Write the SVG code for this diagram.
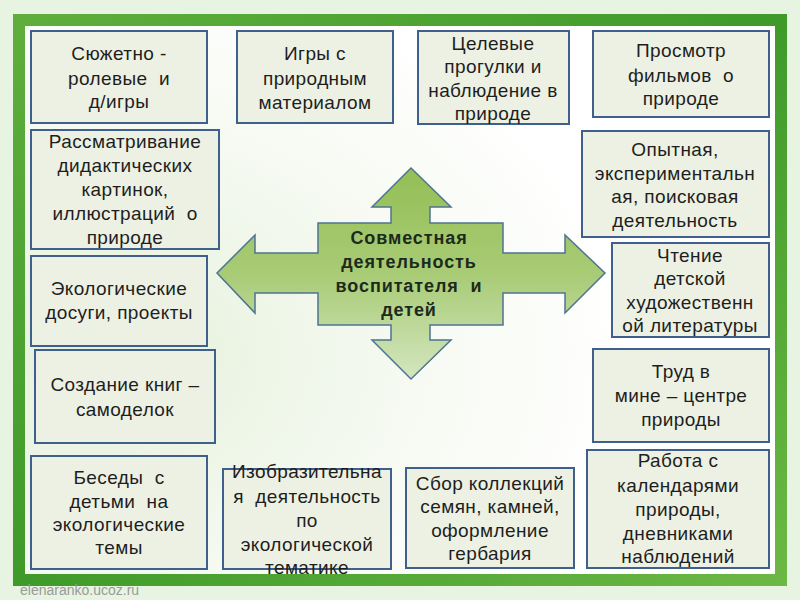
<svg xmlns="http://www.w3.org/2000/svg" width="800" height="600" viewBox="0 0 800 600">
<defs>
<linearGradient id="frameG" x1="0" y1="0" x2="1" y2="1">
<stop offset="0" stop-color="#5fae3c"/>
<stop offset="0.5" stop-color="#3f9a2a"/>
<stop offset="1" stop-color="#6cb844"/>
</linearGradient>
<radialGradient id="innerG" cx="0.1" cy="0.6" r="0.7">
<stop offset="0" stop-color="#e4f1da"/>
<stop offset="0.6" stop-color="#f6faf2"/>
<stop offset="1" stop-color="#ffffff"/>
</radialGradient>
<linearGradient id="arrowG" x1="0" y1="0" x2="0" y2="1">
<stop offset="0" stop-color="#93bf55"/>
<stop offset="0.5" stop-color="#a8cb75"/>
<stop offset="1" stop-color="#d3e6bf"/>
</linearGradient>
<style>
.box{fill:#edf1e3;stroke:#3f5f8c;stroke-width:2}
.t{font-family:"Liberation Sans",Arial,sans-serif;font-size:19px;letter-spacing:0.4px;fill:#1e1e1e;text-anchor:middle;white-space:pre}
.c{font-family:"Liberation Sans",Arial,sans-serif;font-size:18px;letter-spacing:0.9px;font-weight:bold;fill:#1c2a1c;text-anchor:middle;white-space:pre}
</style>
</defs>
<rect width="800" height="600" fill="#e7f4e1"/>
<rect x="19" y="20" width="762" height="560" fill="url(#innerG)" stroke="url(#frameG)" stroke-width="12"/>
<text x="20" y="595" font-family="Liberation Sans,Arial,sans-serif" font-size="14" fill="#9a9a9a">elenaranko.ucoz.ru</text>

<g id="connectors">
<path d="M411,168 L451,207 L430,207 L430,223 L503,223 L503,253 L565,253 L565,235 L605,273 L565,313 L565,293 L503,293 L503,325 L430,325 L430,340 L451,340 L411,379 L372,340 L391,340 L391,325 L318,325 L318,293 L255,293 L255,313 L217,273 L255,235 L255,253 L318,253 L318,223 L391,223 L391,207 L372,207 Z" fill="url(#arrowG)" stroke="#4f7393" stroke-width="1.5"/>
</g>
<g id="center">
<text class="c" x="409" y="244">Совместная</text>
<text class="c" x="409" y="268">деятельность</text>
<text class="c" x="409" y="292">воспитателя  и</text>
<text class="c" x="409" y="316">детей</text>
</g>

<g id="n1"><rect class="box" x="31" y="31" width="176" height="92"/>
<text class="t" x="119" y="60">Сюжетно -</text><text class="t" x="119" y="85">ролевые  и</text><text class="t" x="119" y="108">д/игры</text></g>
<g id="n2"><rect class="box" x="237" y="31" width="156" height="92"/>
<text class="t" x="315" y="60">Игры с</text><text class="t" x="315" y="85">природным</text><text class="t" x="315" y="109">материалом</text></g>
<g id="n3"><rect class="box" x="418" y="31" width="151" height="93"/>
<text class="t" x="493" y="50">Целевые</text><text class="t" x="493" y="73">прогулки и</text><text class="t" x="493" y="97">наблюдение в</text><text class="t" x="493" y="120">природе</text></g>
<g id="n4"><rect class="box" x="593" y="31" width="176" height="86"/>
<text class="t" x="681" y="57">Просмотр</text><text class="t" x="681" y="82">фильмов  о</text><text class="t" x="681" y="105">природе</text></g>
<g id="n5"><rect class="box" x="31" y="130" width="188" height="119"/>
<text class="t" x="125" y="148">Рассматривание</text><text class="t" x="125" y="172">дидактических</text><text class="t" x="125" y="196">картинок,</text><text class="t" x="125" y="220">иллюстраций  о</text><text class="t" x="125" y="244">природе</text></g>
<g id="n6"><rect class="box" x="582" y="131" width="187" height="106"/>
<text class="t" x="675" y="156">Опытная,</text><text class="t" x="675" y="180">экспериментальн</text><text class="t" x="675" y="203">ая, поисковая</text><text class="t" x="675" y="227">деятельность</text></g>
<g id="n7"><rect class="box" x="31" y="256" width="176" height="90"/>
<text class="t" x="119" y="295">Экологические</text><text class="t" x="119" y="319">досуги, проекты</text></g>
<g id="n8"><rect class="box" x="612" y="243" width="157" height="94"/>
<text class="t" x="690" y="262">Чтение</text><text class="t" x="690" y="285">детской</text><text class="t" x="690" y="309">художественн</text><text class="t" x="690" y="332">ой литературы</text></g>
<g id="n9"><rect class="box" x="35" y="350" width="180" height="93"/>
<text class="t" x="125" y="391">Создание книг –</text><text class="t" x="125" y="416">самоделок</text></g>
<g id="n10"><rect class="box" x="593" y="349" width="176" height="93"/>
<text class="t" x="681" y="378">Труд в</text><text class="t" x="681" y="402">мине – центре</text><text class="t" x="681" y="426">природы</text></g>
<g id="n11"><rect class="box" x="31" y="456" width="176" height="113"/>
<text class="t" x="119" y="484">Беседы  с</text><text class="t" x="119" y="508">детьми  на</text><text class="t" x="119" y="531">экологические</text><text class="t" x="119" y="554">темы</text></g>
<g id="n12"><rect class="box" x="223" y="469" width="168" height="100"/>
<text class="t" x="307" y="478">Изобразительна</text><text class="t" x="307" y="503">я  деятельность</text><text class="t" x="307" y="527">по</text><text class="t" x="307" y="551">экологической</text><text class="t" x="307" y="574">тематике</text></g>
<g id="n13"><rect class="box" x="406" y="468" width="168" height="100"/>
<text class="t" x="490" y="490">Сбор коллекций</text><text class="t" x="490" y="513">семян, камней,</text><text class="t" x="490" y="537">оформление</text><text class="t" x="490" y="560">гербария</text></g>
<g id="n14"><rect class="box" x="587" y="450" width="182" height="118"/>
<text class="t" x="678" y="467">Работа с</text><text class="t" x="678" y="492">календарями</text><text class="t" x="678" y="516">природы,</text><text class="t" x="678" y="540">дневниками</text><text class="t" x="678" y="563">наблюдений</text></g>
</svg>
